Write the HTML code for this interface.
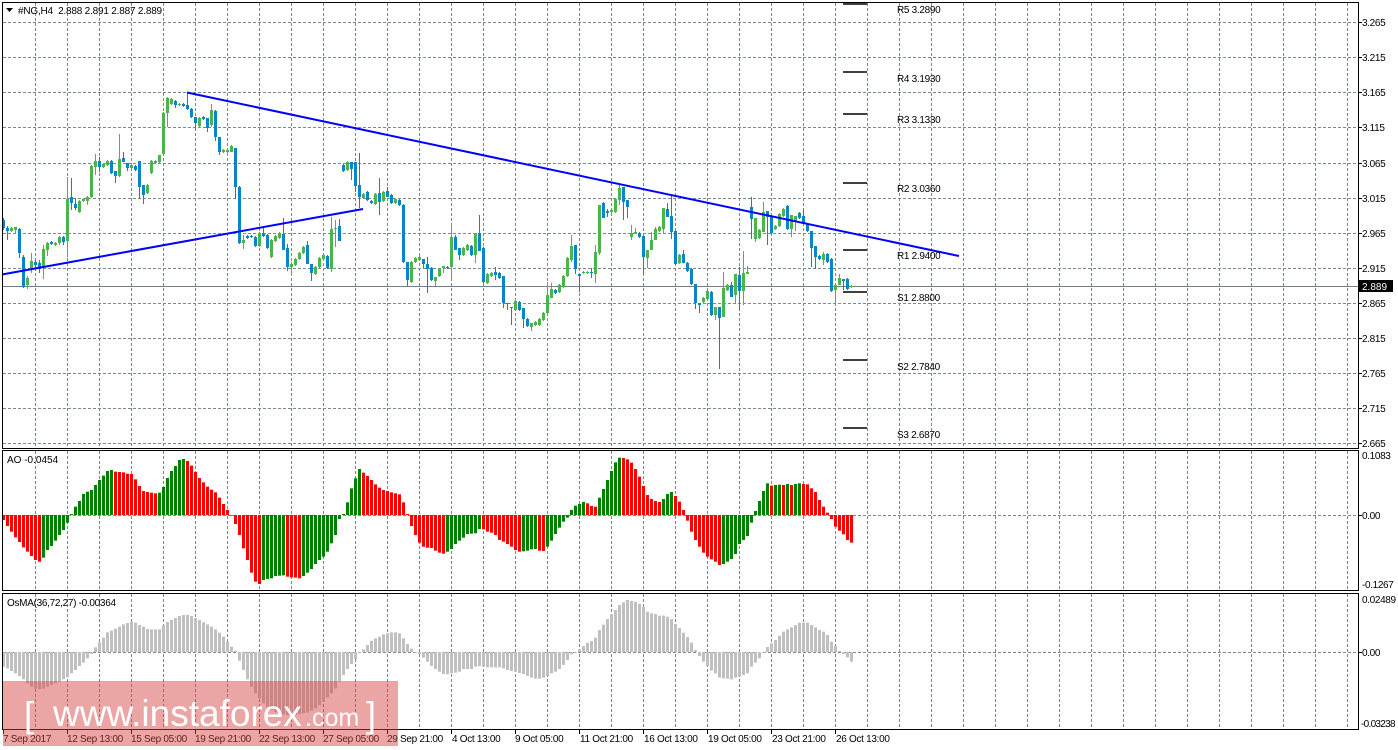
<!DOCTYPE html>
<html><head><meta charset="utf-8">
<style>
html,body{margin:0;padding:0;background:#fff;width:1398px;height:750px;overflow:hidden}
svg{position:absolute;left:0;top:0;display:block}
text{font-family:"Liberation Sans",Arial,sans-serif;fill:#000}
.ax{font-size:10px;letter-spacing:-0.35px}
.dt{font-size:10px;letter-spacing:-0.3px}
.pv{font-size:10px;letter-spacing:-0.3px}
</style></head>
<body>
<svg id="s" width="1398" height="750" xmlns="http://www.w3.org/2000/svg">
<rect x="0" y="0" width="1398" height="750" fill="#fff"/>
<g id="grid" stroke="#7a8794" stroke-width="1" stroke-dasharray="3,2" fill="none"></g>
<line x1="2" y1="286.5" x2="1358" y2="286.5" stroke="#708090" stroke-width="1"/>
<g id="cand"></g>
<g id="ao"></g>
<g id="os"></g>
<line x1="2" y1="274.5" x2="363" y2="209" stroke="#0000ff" stroke-width="2"/>
<line x1="187" y1="92.5" x2="959" y2="256" stroke="#0000ff" stroke-width="2"/>
<g stroke="#000" stroke-width="1.5">
<line x1="843" y1="4" x2="867" y2="4"/>
<line x1="843" y1="72" x2="867" y2="72"/>
<line x1="843" y1="114" x2="867" y2="114"/>
<line x1="843" y1="183" x2="867" y2="183"/>
<line x1="843" y1="250" x2="867" y2="250"/>
<line x1="843" y1="292" x2="867" y2="292"/>
<line x1="843" y1="360" x2="867" y2="360"/>
<line x1="843" y1="428" x2="867" y2="428"/>
</g>
<g class="pv">
<text x="897" y="13">R5 3.2890</text>
<text x="897" y="82">R4 3.1930</text>
<text x="897" y="123">R3 3.1330</text>
<text x="897" y="192">R2 3.0360</text>
<text x="897" y="259">R1 2.9400</text>
<text x="897" y="301">S1 2.8800</text>
<text x="897" y="370">S2 2.7840</text>
<text x="897" y="438">S3 2.6870</text>
</g>
<g stroke="#000" stroke-width="1" fill="none">
<rect x="2.5" y="2.5" width="1356" height="446"/>
<rect x="2.5" y="450.5" width="1356" height="140"/>
<rect x="2.5" y="593.5" width="1356" height="136"/>
</g>
<g id="ticks" stroke="#000" stroke-width="1"></g>
<polygon points="6,8 13,8 9.5,12" fill="#000"/>
<text x="18" y="14" style="font-size:10px;letter-spacing:-0.2px">#NG,H4&#160;&#160;2.888 2.891 2.887 2.889</text>
<text x="7" y="463" style="font-size:10px">AO -0.0454</text>
<text x="7" y="606" style="font-size:10px;letter-spacing:-0.3px">OsMA(36,72,27) -0.00364</text>
<g class="ax">
<text x="1362" y="26">3.265</text>
<text x="1362" y="61">3.215</text>
<text x="1362" y="96">3.165</text>
<text x="1362" y="131">3.115</text>
<text x="1362" y="167">3.065</text>
<text x="1362" y="202">3.015</text>
<text x="1362" y="237">2.965</text>
<text x="1362" y="272">2.915</text>
<text x="1362" y="307">2.865</text>
<text x="1362" y="342">2.815</text>
<text x="1362" y="377">2.765</text>
<text x="1362" y="412">2.715</text>
<text x="1362" y="447">2.665</text>
<text x="1362" y="459">0.1083</text>
<text x="1362" y="519">0.00</text>
<text x="1362" y="588">-0.1267</text>
<text x="1362" y="603">0.02489</text>
<text x="1362" y="656">0.00</text>
<text x="1361" y="727" style="letter-spacing:-0.7px">-0.03238</text>
</g>
<rect x="1359" y="280" width="34" height="12" fill="#000"/>
<text x="1362" y="290" style="font-size:10px;fill:#fff">2.889</text>
<g class="dt">
<text x="3" y="742">7 Sep 2017</text>
<text x="67" y="742">12 Sep 13:00</text>
<text x="131" y="742">15 Sep 05:00</text>
<text x="195" y="742">19 Sep 21:00</text>
<text x="259" y="742">22 Sep 13:00</text>
<text x="323" y="742">27 Sep 05:00</text>
<text x="387" y="742">29 Sep 21:00</text>
<text x="452" y="742">4 Oct 13:00</text>
<text x="515" y="742">9 Oct 05:00</text>
<text x="580" y="742">11 Oct 21:00</text>
<text x="644" y="742">16 Oct 13:00</text>
<text x="708" y="742">19 Oct 05:00</text>
<text x="772" y="742">23 Oct 21:00</text>
<text x="836" y="742">26 Oct 13:00</text>
</g>
<rect x="3" y="681" width="395" height="65" fill="rgba(214,64,64,0.47)"/>
<text x="24" y="727" style="font-size:36px;fill:#fff">[</text>
<text x="53" y="726" style="font-size:37px;fill:#fff">www.instaforex</text>
<text x="305" y="726" style="font-size:25px;fill:#fff">.com</text>
<text x="366" y="727" style="font-size:36px;fill:#fff">]</text>
</svg>
<script>
(function(){
var C=[
"b,220,228,218,230","b,228,231,226,240","g,228,231","g,227,230,227,233","b,229,253,228,258",
"b,257,287,255,288","g,278,285,276,289","g,261,268,253,273","b,262,265,260,268","b,263,268,260,273",
"g,249,268,245,279","g,243,250,242,256","b,242,244","g,243,245","g,237,243,236,245",
"b,237,242,236,245","g,199,241,177,257","b,197,203,178,210","b,204,208,198,210","g,201,212",
"g,199,201","g,197,201,196,205","g,166,197","g,161,167,154,175","b,161,167,157,172",
"g,164,167","g,161,165","b,161,173","b,171,176,171,183","g,159,176,134,177",
"b,158,162,152,162","b,163,168,163,171","g,165,168","b,166,170","b,161,187,161,199",
"b,185,195,185,204","g,185,193","g,161,173","g,161,163","g,155,162,155,163",
"g,113,154","g,98,113,97,127","g,99,104","b,101,105,100,108","g,104,105",
"b,104,106","b,105,109,92,110","b,109,117","b,117,123,117,130","g,118,126",
"b,117,119","b,118,128,118,132","g,110,125,104,127","b,111,137,110,141","b,137,152,137,155",
"g,150,152","g,150,152","g,146,152,145,152","b,148,187,148,199","b,187,243",
"g,240,243,235,249","b,236,238","b,236,237","b,237,246","g,233,246",
"b,233,236,228,237","b,235,248","g,240,257","g,236,241","g,233,238",
"b,234,250,218,250","b,248,267,244,271","g,264,267,262,273","g,259,265","g,253,259",
"g,247,253","b,245,264,241,264","b,264,273,264,281","g,267,274","g,258,267",
"g,255,259","b,256,268","g,229,269,217,272","g,228,229,220,247","b,226,241,219,241",
"b,165,171","g,162,170","b,162,169,162,180","b,162,186,162,192","b,185,197,153,208",
"g,194,198","b,192,200","b,201,203","g,194,204","b,193,202,178,215",
"g,192,201","b,191,197,187,197","b,195,203","g,199,203","b,200,205",
"b,205,262","b,262,280,262,286","g,262,282","g,258,262","g,257,260",
"b,259,264,259,268","b,264,269,257,293","b,268,280","g,277,281,277,286","g,269,276",
"g,266,268,266,273","b,267,268","g,237,267,224,278","b,237,250,235,250","b,248,255,248,260",
"g,248,255","g,245,250","b,246,255","g,233,255,233,263","b,233,251,215,251",
"b,248,282","g,274,283","g,273,276","b,272,275,267,280","b,273,278",
"b,276,303,276,308","b,303,304,303,310","b,307,308,307,325","g,301,310","b,302,310",
"b,308,319,308,328","b,319,326","g,323,327,323,331","g,322,325","g,319,325",
"g,313,320","g,295,313,282,313","g,289,298,283,298","b,290,293","g,285,292",
"g,276,287","g,258,276","g,246,260,235,262","b,245,269,245,274","b,274,276,274,292",
"g,272,273","g,272,273","b,272,273,268,278","g,252,274,245,283","g,205,253,205,255",
"b,203,218,202,218","b,211,213,209,217","g,210,212","g,199,212","g,188,200,185,205",
"b,187,202,187,220","b,200,207,200,218","g,233,237,225,240","g,232,234,228,234","b,233,237",
"b,236,257,236,274","g,250,258,250,268","g,240,250,232,250","g,229,240,227,240","g,227,231",
"g,208,229,208,233","b,209,217,203,217","b,216,232,196,239","b,231,264","g,255,263",
"b,254,263,250,263","b,263,271","b,269,284","b,284,303,284,309","b,303,305,303,313",
"g,298,302","g,291,299","b,292,315","g,307,315,307,320","b,307,318,307,369",
"g,288,317,272,317","g,285,290","b,285,297,282,297","g,274,295,274,303","b,275,291,267,310",
"g,273,291,251,305","g,272,274,266,274","b,207,219,197,239","g,218,239,218,242","g,230,238",
"g,212,232,202,232","b,211,217,211,245","b,216,233","g,226,229","g,214,226",
"g,209,216","b,206,229","g,215,229,215,237","g,216,222,216,231","b,213,218",
"b,216,224,209,224","b,224,231","b,231,248,231,267","b,246,257,246,269","b,256,259",
"g,254,260,252,265","b,254,262","b,259,291","g,285,290,285,304","g,278,285,274,285",
"b,279,281,279,290","b,279,289","g,286,287"];
var AO=[210,228,245,262,276,292,305,318,330,335,323,300,288,272,255,240,218,192,170,153,
132,125,120,105,90,77,63,60,65,66,67,71,72,88,108,123,126,128,130,128,
111,84,63,48,30,27,33,47,66,84,97,110,119,127,143,162,180,197,222,255,
295,330,368,395,402,390,387,385,378,377,376,380,382,383,385,378,368,357,342,330,
320,305,280,255,207,192,157,115,85,57,68,78,90,103,113,120,123,127,130,133,
157,192,228,255,278,290,293,294,302,308,311,305,297,282,272,263,252,251,250,237,
238,245,248,255,270,275,282,290,300,305,304,302,298,297,302,303,290,272,252,233,
215,203,180,167,162,156,160,168,170,143,117,90,63,37,23,24,28,38,57,80,
108,135,147,153,156,147,132,126,138,155,180,212,245,270,290,308,320,328,335,345,
342,335,327,312,282,270,258,218,183,153,123,100,107,105,104,105,102,105,102,100,
102,103,115,126,150,170,188,207,230,242,253,270,278];
var OS=[230,235,243,250,258,268,280,290,296,298,296,290,285,280,275,268,262,250,240,228,
218,205,192,172,157,143,127,122,116,110,103,99,96,98,105,110,117,118,118,118,
106,96,90,84,78,75,75,78,84,90,97,103,110,118,128,140,155,170,182,212,
240,268,290,310,325,340,350,360,366,370,373,375,375,375,373,370,368,362,355,346,
335,322,310,295,275,255,237,222,207,190,178,165,152,145,140,133,130,127,127,130,
145,162,176,186,192,203,215,228,237,245,252,253,250,248,245,237,237,237,230,228,
230,232,232,232,232,235,240,243,245,249,252,258,263,266,266,263,258,250,245,237,
225,210,193,186,178,168,158,153,143,120,104,87,73,60,45,37,30,33,35,42,
50,65,70,72,77,77,80,87,102,114,128,141,158,180,198,215,228,242,250,263,
265,266,268,263,260,255,250,230,218,205,186,171,160,150,137,125,118,112,105,98,
98,98,105,112,120,125,135,155,168,183,192,202,215];
var s='',i;
var hy=[22,57,92,127,163,198,233,268,303,338,373,408,443];
for(i=0;i<hy.length;i++) s+='<line x1="3" y1="'+(hy[i]+0.5)+'" x2="1358" y2="'+(hy[i]+0.5)+'"/>';
s+='<line x1="3" y1="515.5" x2="1358" y2="515.5"/>';
s+='<line x1="3" y1="652.5" x2="1358" y2="652.5"/>';
for(var x=35;x<1358;x+=32){
 s+='<line x1="'+(x+0.5)+'" y1="3" x2="'+(x+0.5)+'" y2="448"/>';
 s+='<line x1="'+(x+0.5)+'" y1="451" x2="'+(x+0.5)+'" y2="590"/>';
 s+='<line x1="'+(x+0.5)+'" y1="594" x2="'+(x+0.5)+'" y2="729"/>';
}
document.getElementById('grid').innerHTML=s;
s='';
for(i=0;i<hy.length;i++) s+='<line x1="1358" y1="'+(hy[i]+0.5)+'" x2="1362" y2="'+(hy[i]+0.5)+'"/>';
s+='<line x1="1358" y1="515.5" x2="1362" y2="515.5"/><line x1="1358" y1="652.5" x2="1362" y2="652.5"/>';
var dx=[3,67,131,195,259,323,387,451,515,579,643,707,771,835];
for(i=0;i<dx.length;i++) s+='<line x1="'+(dx[i]+0.5)+'" y1="729" x2="'+(dx[i]+0.5)+'" y2="734"/>';
document.getElementById('ticks').innerHTML=s;
var G='#4bb44b',B='#0a85c7';
s='';
for(i=0;i<C.length;i++){
 var p=C[i].split(','),c=p[0]=='g'?G:B,t=+p[1],b=+p[2];
 var ht=p.length>3?+p[3]:t-1,hb=p.length>3?+p[4]:b+1;
 var x0=2+4*i;
 s+='<rect x="'+(x0+1)+'" y="'+ht+'" width="1" height="'+Math.max(1,hb-ht)+'" fill="'+c+'"/>';
 s+='<rect x="'+x0+'" y="'+t+'" width="3" height="'+Math.max(1,b-t)+'" fill="'+c+'"/>';
}
document.getElementById('cand').innerHTML=s;
s='';var prev=null,col='#ff0000';
for(i=0;i<AO.length;i++){
 var z=AO[i];
 if(prev!==null){ if(z<prev) col='#008000'; else if(z>prev) col='#ff0000'; }
 prev=z;
 var y=450+z/3,x1=2+4*i,top=Math.min(y,515),h=Math.max(0.7,Math.abs(y-515));
 s+='<rect x="'+x1+'" y="'+top+'" width="3" height="'+h+'" fill="'+col+'"/>';
}
document.getElementById('ao').innerHTML=s;
s='';
for(i=0;i<OS.length;i++){
 var y2=590+OS[i]/3,x2=2+4*i,t2=Math.min(y2,652),h2=Math.max(0.7,Math.abs(y2-652));
 s+='<rect x="'+x2+'" y="'+t2+'" width="3" height="'+h2+'" fill="#c0c0c0"/>';
}
document.getElementById('os').innerHTML=s;
})();
</script>
</body></html>
